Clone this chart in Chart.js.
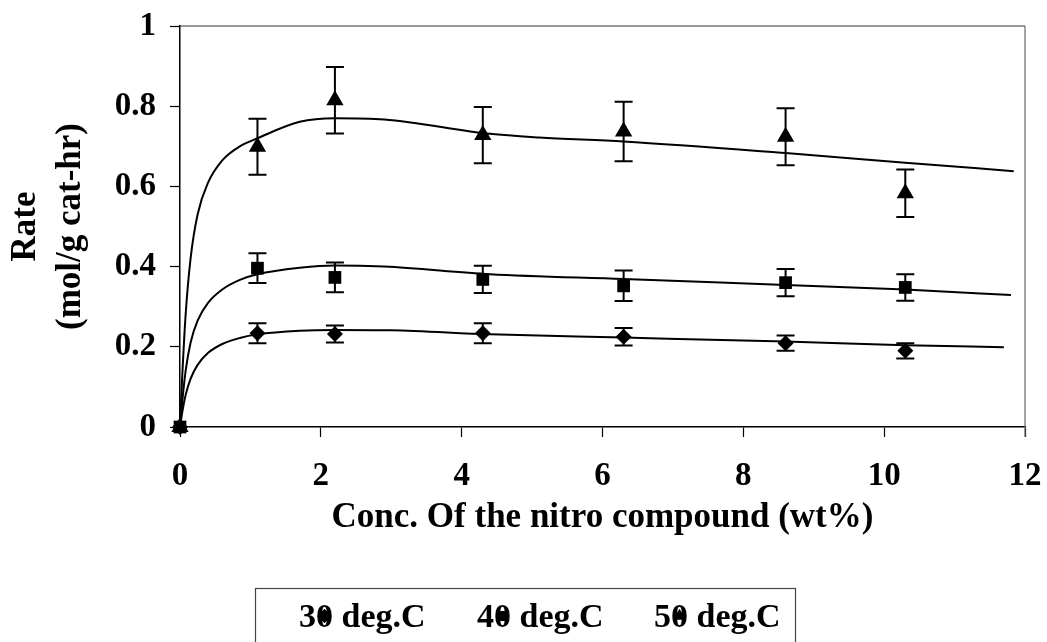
<!DOCTYPE html>
<html><head><meta charset="utf-8">
<script src="https://cdn.jsdelivr.net/npm/chart.js@4.4.1/dist/chart.umd.min.js"></script>
<style>html,body{margin:0;padding:0;background:#fff}</style>
</head><body>
<canvas id="c" width="1047" height="642" style="display:block;width:1047px;height:642px"></canvas>
<script>
// ---- data ----
const seriesLabels = ['30 deg.C', '40 deg.C', '50 deg.C'];
const seriesMarkers = ['rectRot', 'rect', 'triangle'];
const concX = [0, 1.1, 2.2, 4.3, 6.3, 8.6, 10.3];
const rate30 = [0, 0.234, 0.232, 0.234, 0.225, 0.209, 0.190];
const err30  = [0, 0.025, 0.021, 0.025, 0.022, 0.019, 0.019];
const rate40 = [0, 0.396, 0.373, 0.368, 0.352, 0.360, 0.348];
const err40  = [0, 0.037, 0.037, 0.034, 0.038, 0.034, 0.033];
const rate50 = [0, 0.699, 0.815, 0.728, 0.737, 0.724, 0.583];
const err50  = [0, 0.070, 0.083, 0.070, 0.074, 0.071, 0.059];
// fitted curves (traced)
const fit30X = [0, 0.03, 0.08, 0.15, 0.25, 0.4, 0.6, 0.85, 1.1, 1.7, 2.2, 3.0, 4.4, 6.3, 8.6, 10.3, 11.7];
const fit30Y = [0, 0.035, 0.08, 0.12, 0.155, 0.185, 0.207, 0.222, 0.231, 0.240, 0.242, 0.241, 0.231, 0.223, 0.213, 0.204, 0.199];
const fit40X = [0, 0.03, 0.08, 0.15, 0.25, 0.4, 0.6, 0.85, 1.1, 1.7, 2.2, 2.9, 4.4, 6.3, 8.6, 10.3, 11.8];
const fit40Y = [0, 0.06, 0.14, 0.21, 0.265, 0.31, 0.343, 0.367, 0.381, 0.397, 0.403, 0.400, 0.381, 0.369, 0.354, 0.343, 0.329];
const fit50X = [0, 0.03, 0.08, 0.15, 0.25, 0.4, 0.6, 0.85, 1.1, 1.7, 2.2, 2.9, 4.4, 5.1, 6.3, 8.6, 10.3, 11.84];
const fit50Y = [0, 0.12, 0.28, 0.42, 0.53, 0.61, 0.665, 0.70, 0.720, 0.761, 0.770, 0.767, 0.731, 0.722, 0.712, 0.683, 0.659, 0.638];
const xTickValues = [0, 2, 4, 6, 8, 10, 12];
const yTickValues = [0, 0.2, 0.4, 0.6, 0.8, 1];
const xTitle = 'Conc. Of the nitro compound (wt%)';
const yTitle = ['Rate', '(mol/g cat-hr)'];

const FONT = 'Liberation Serif, Times New Roman, serif';
const pts = (xs, ys) => xs.map((x, i) => ({x, y: ys[i]}));

const rates = [rate30, rate40, rate50];
const errs = [err30, err40, err50];
const fits = [[fit30X, fit30Y], [fit40X, fit40Y], [fit50X, fit50Y]];
const markerRadius = {rectRot: 8, rect: 9, triangle: 10};

const datasets = [];
fits.forEach((f) => {
  datasets.push({
    type: 'line', data: pts(f[0], f[1]), borderColor: '#000', borderWidth: 2,
    pointRadius: 0, cubicInterpolationMode: 'monotone', fill: false, isFit: true, clip: false
  });
});
rates.forEach((r, i) => {
  datasets.push({
    type: 'scatter', label: seriesLabels[i], data: pts(concX, r), errors: errs[i],
    pointStyle: seriesMarkers[i], pointRadius: markerRadius[seriesMarkers[i]],
    backgroundColor: '#000', borderColor: '#000', borderWidth: 0, showLine: false, clip: false, isSeries: true
  });
});

const errorBars = {
  id: 'errorBars',
  afterDatasetsDraw(chart) {
    const {ctx, scales: {x, y}} = chart;
    ctx.save();
    ctx.strokeStyle = '#000';
    ctx.lineWidth = 2;
    chart.data.datasets.forEach(ds => {
      if (!ds.errors) return;
      ds.data.forEach((p, i) => {
        const e = ds.errors[i];
        if (!e) return;
        const px = x.getPixelForValue(p.x);
        const yt = y.getPixelForValue(p.y + e);
        const yb = y.getPixelForValue(p.y - e);
        ctx.beginPath();
        ctx.moveTo(px, yt); ctx.lineTo(px, yb);
        ctx.moveTo(px - 9, yt); ctx.lineTo(px + 9, yt);
        ctx.moveTo(px - 9, yb); ctx.lineTo(px + 9, yb);
        ctx.stroke();
      });
    });
    ctx.restore();
  }
};

const frame = {
  id: 'frame',
  beforeDatasetsDraw(chart) {
    const {ctx, chartArea: a} = chart;
    ctx.save();
    ctx.lineWidth = 1.2;
    ctx.strokeStyle = '#333';
    ctx.beginPath(); ctx.moveTo(a.left, a.top); ctx.lineTo(a.right, a.top); ctx.stroke();
    ctx.strokeStyle = '#666';
    ctx.beginPath(); ctx.moveTo(a.right, a.top); ctx.lineTo(a.right, a.bottom + 10); ctx.stroke();
    ctx.restore();
  }
};

const boxLegend = {
  id: 'boxLegend',
  afterDraw(chart) {
    const {ctx} = chart;
    const items = chart.data.datasets.filter(d => d.isSeries);
    ctx.save();
    ctx.strokeStyle = '#444';
    ctx.lineWidth = 1.2;
    ctx.strokeRect(255.5, 588.5, 540, 80);
    ctx.font = 'bold 34px ' + FONT;
    ctx.fillStyle = '#000';
    ctx.textBaseline = 'alphabetic';
    const starts = [299, 477, 654];
    items.forEach((d, i) => {
      const x0 = starts[i];
      ctx.fillText(d.label, x0, 627);
      const w1 = ctx.measureText(d.label.slice(0, 1)).width;
      const w2 = ctx.measureText(d.label.slice(0, 2)).width;
      const mx = x0 + (w1 + w2) / 2;
      const my = 616;
      Chart.helpers.drawPoint(ctx, {pointStyle: d.pointStyle, radius: 7, rotation: 0, borderWidth: 0}, mx, my);
      ctx.fill();
    });
    ctx.restore();
  }
};

const fmt = v => String(Math.round(v * 10) / 10);

new Chart(document.getElementById('c'), {
  type: 'scatter',
  data: {datasets},
  options: {
    responsive: false,
    animation: false,
    devicePixelRatio: 1,
    layout: {padding: {top: 26, right: 22, left: 0, bottom: 95}},
    plugins: {legend: {display: false}, tooltip: {enabled: false}},
    scales: {
      x: {
        type: 'linear', min: 0, max: 12,
        afterBuildTicks: s => { s.ticks = xTickValues.map(v => ({value: v})); },
        afterFit: s => { s.height = 120; s.paddingLeft = 0; s.paddingRight = 0; },
        ticks: {color: '#000', font: {family: FONT, size: 33, weight: 'bold'}, padding: 20, callback: fmt},
        grid: {drawOnChartArea: false, drawTicks: true, tickLength: 10, tickColor: '#000', tickWidth: 1.2},
        border: {display: true, color: '#000', width: 1.5},
        title: {display: true, text: xTitle, color: '#000', font: {family: FONT, size: 35, weight: 'bold', lineHeight: 1.2}, padding: {top: 0, bottom: 8}}
      },
      y: {
        type: 'linear', min: 0, max: 1,
        afterBuildTicks: s => { s.ticks = yTickValues.map(v => ({value: v})); },
        afterFit: s => { s.width = 180; s.paddingTop = 0; s.paddingBottom = 0; },
        ticks: {color: '#000', font: {family: FONT, size: 33, weight: 'bold'}, padding: 14, callback: fmt},
        grid: {drawOnChartArea: false, drawTicks: true, tickLength: 10, tickColor: '#000', tickWidth: 1.2},
        border: {display: true, color: '#000', width: 1.5},
        title: {display: true, text: yTitle, color: '#000', font: {family: FONT, size: 35, weight: 'bold', lineHeight: 1.3}, padding: {top: 3, bottom: 0}}
      }
    }
  },
  plugins: [frame, errorBars, boxLegend]
});
</script>
</body></html>
